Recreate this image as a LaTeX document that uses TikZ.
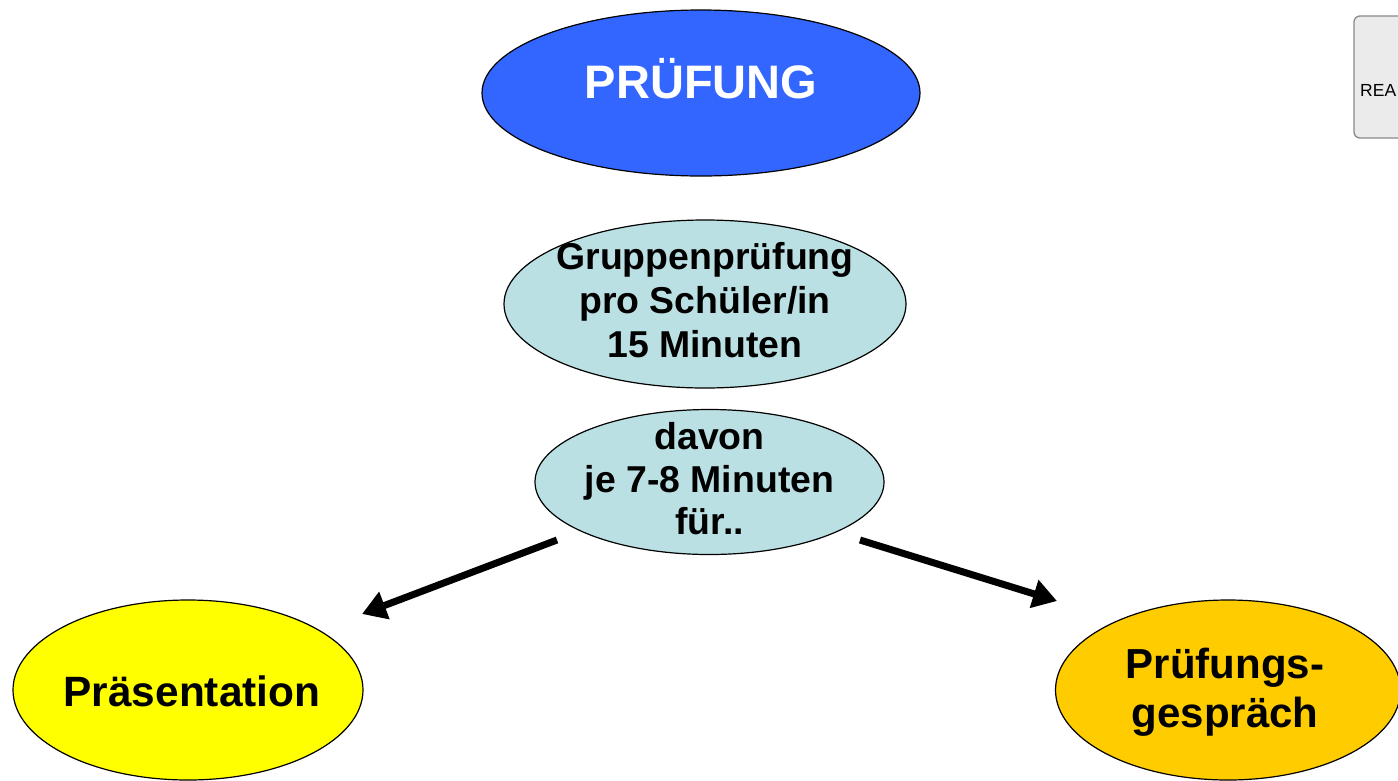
\documentclass[tikz,border=0pt]{standalone}
\usepackage{fontspec}
\setmainfont{Liberation Sans}
\usetikzlibrary{shapes.geometric,arrows.meta}
\definecolor{pblue}{HTML}{3366FF}
\definecolor{plight}{HTML}{BBE0E3}
\definecolor{pyellow}{HTML}{FFFF00}
\definecolor{pgold}{HTML}{FFCC00}
\definecolor{pgray}{HTML}{EBEBEB}
\definecolor{pedge}{HTML}{8A8A8A}
\tikzset{
  oval/.style={ellipse, draw=black, line width=1.2pt, inner sep=0pt},
  txt/.style={inner sep=0pt, align=center, font=\bfseries},
  bigarrow/.style={line width=7pt, -{Triangle[length=24pt,width=28pt]}},
}
\begin{document}
\begin{tikzpicture}[x=1pt,y=-1pt]
\useasboundingbox (0,0) rectangle (1398,780);
\clip (0,0) rectangle (1398,780);
\fill[white] (0,0) rectangle (1398,780);
% side box
\draw[pedge, fill=pgray, line width=1.3pt, rounded corners=6pt] (1354,16) rectangle (1420,138);
\node[anchor=west, inner sep=0pt, font=\fontsize{17.5}{20}\selectfont] (rea) at (1360,90) {REA};
% ellipses
\node[oval, fill=pblue, minimum width=438pt, minimum height=166pt] (pruef) at (701,93) {};
\node[txt, text=white, font=\bfseries\fontsize{47}{54}\selectfont] (pruefT) at (701,79) {PRÜFUNG};
\node[oval, fill=plight, minimum width=402pt, minimum height=168pt] (gruppe) at (705,304) {};
\node[txt, font=\bfseries\fontsize{37.4}{44}\selectfont] (gruppeT) at (705,300)
      {Gruppenprüfung\\pro Schüler/in\\15 Minuten};
\node[oval, fill=plight, minimum width=349pt, minimum height=145pt] (davon) at (709.5,482) {};
\node[txt, font=\bfseries\fontsize{37.4}{42.5}\selectfont] (davonT) at (709.5,479)
      {davon\\je 7-8 Minuten\\für..};
\node[oval, fill=pyellow, minimum width=350pt, minimum height=180pt] (praes) at (188,690) {};
\node[txt, font=\bfseries\fontsize{42.4}{48}\selectfont] (praesT) at (192,691) {Präsentation};
\node[oval, fill=pgold, minimum width=345pt, minimum height=180pt] (gespr) at (1228,690) {};
\node[txt, font=\bfseries\fontsize{42}{49}\selectfont] (gesprT) at (1225,692) {Prüfungs-\\gespräch};
% arrows
\coordinate (aL0) at (557,540);
\coordinate (aL1) at (362,614);
\coordinate (aR0) at (860,540);
\coordinate (aR1) at (1057,601);
\draw[bigarrow] (aL0) -- (aL1);
\draw[bigarrow] (aR0) -- (aR1);
\end{tikzpicture}
\end{document}
